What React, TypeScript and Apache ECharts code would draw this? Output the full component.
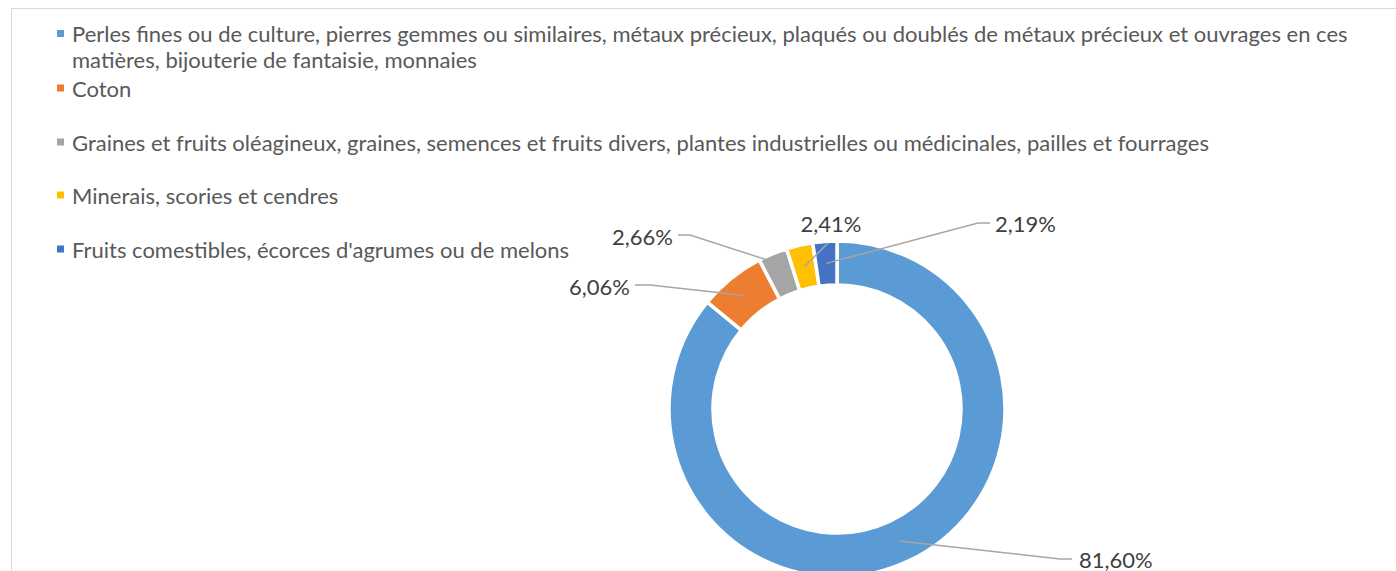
import React, { useEffect, useRef } from "react";
import * as echarts from "echarts";

const categories = [
  "Perles fines ou de culture, pierres gemmes ou similaires, métaux précieux, plaqués ou doublés de métaux précieux et ouvrages en ces matières, bijouterie de fantaisie, monnaies",
  "Coton",
  "Graines et fruits oléagineux, graines, semences et fruits divers, plantes industrielles ou médicinales, pailles et fourrages",
  "Minerais, scories et cendres",
  "Fruits comestibles, écorces d'agrumes ou de melons",
];
const values = [81.6, 6.06, 2.66, 2.41, 2.19];
const colors = ["#5B9BD5", "#ED7D31", "#A5A5A5", "#FFC000", "#4472C4"];

// layout constants
const CENTER = [837, 409];
const R_IN = 124;
const R_OUT = 168;
const legendCenters = [37, 88, 142, 195, 249];
const labelPlacement = [
  { x: 1079, y: 559, align: "left", elbow: [1060, 559], end: [1072, 559], anchorR: 146 },
  { x: 630, y: 286, align: "right", elbow: [650, 285], end: [635, 285], anchorR: 146 },
  { x: 673, y: 236, align: "right", elbow: [690, 235], end: [678, 235], anchorR: 158 },
  { x: 831, y: 223, align: "center", elbow: [828, 243], end: [828, 243], anchorR: 146 },
  { x: 995, y: 223, align: "left", elbow: [978, 223], end: [990, 223], anchorR: 146 },
];

export default function App() {
  const ref = useRef<HTMLDivElement>(null);
  useEffect(() => {
    if (!ref.current) return;
    const chart = echarts.init(ref.current, null, { renderer: "svg" });
    const total = values.reduce((a, b) => a + b, 0);
    const mids: number[] = [];
    let acc = 0;
    values.forEach((v) => {
      mids.push((acc + v / 2) / total);
      acc += v;
    });
    const anchor = (i: number) => {
      const a = mids[i] * Math.PI * 2;
      const r = labelPlacement[i].anchorR;
      return [CENTER[0] + r * Math.sin(a), CENTER[1] - r * Math.cos(a)];
    };

    const legends = categories.map((name, i) => {
      const twoLine = i === 0;
      return {
        show: true,
        data: [name],
        orient: "vertical",
        left: 57,
        top: twoLine ? legendCenters[0] - 16.5 : legendCenters[i] - 13,
        padding: 0,
        icon: twoLine ? "path://M0,0L7,0L7,7L0,7Z M0,33L7,33L7,33Z" : "rect",
        itemWidth: 7,
        itemHeight: twoLine ? 33 : 7,
        selectedMode: false,
        itemStyle: { borderWidth: 0 },
        formatter: (n: string) => (twoLine ? n.replace("ces matières", "ces\nmatières") : n),
        textStyle: {
          fontFamily: "Lato",
          fontSize: 22,
          color: "#595959",
          lineHeight: 26,
          padding: [0, 0, 0, 3],
        },
      };
    });

    const leaderLines = values.map((_, i) => ({
      type: "polyline",
      z: 10,
      silent: true,
      shape: { points: [anchor(i), labelPlacement[i].elbow, labelPlacement[i].end] },
      style: { fill: "none", stroke: "#a6a6a6", lineWidth: 1.5 },
    }));

    chart.setOption({
      animation: false,
      color: colors,
      legend: legends,
      graphic: [
        {
          type: "rect",
          shape: { x: 11.5, y: 8.5, width: 1500, height: 700 },
          style: { fill: "none", stroke: "#d9d9d9", lineWidth: 1 },
          silent: true,
        },
        ...leaderLines,
      ],
      series: [
        {
          type: "pie",
          center: CENTER,
          radius: [R_IN, R_OUT],
          startAngle: 90,
          clockwise: true,
          avoidLabelOverlap: false,
          itemStyle: { borderColor: "#ffffff", borderWidth: 3.5 },
          label: {
            show: true,
            position: "outside",
            fontFamily: "Lato",
            fontSize: 22,
            lineHeight: 22,
            color: "#404040",
            formatter: (p: any) => p.value.toFixed(2).replace(".", ",") + "%",
          },
          labelLine: { show: false },
          labelLayout: (params: any) => {
            const p = labelPlacement[params.dataIndex];
            return { x: p.x, y: p.y, align: p.align, verticalAlign: "middle" };
          },
          emphasis: { disabled: true },
          data: categories.map((name, i) => ({ name, value: values[i] })),
        },
      ],
    });
    return () => chart.dispose();
  }, []);
  return (
    <div
      ref={ref}
      style={{ position: "absolute", left: 0, top: 0, width: 1396, height: 571, background: "#fff" }}
    />
  );
}
